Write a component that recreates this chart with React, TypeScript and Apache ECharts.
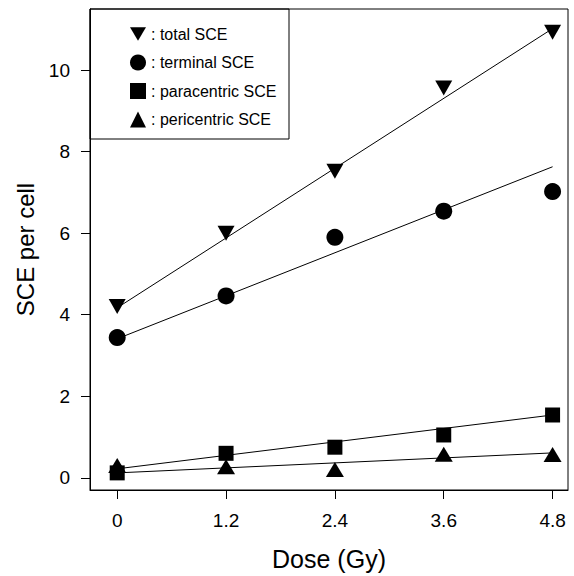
import React, { useEffect, useRef } from "react";
import * as echarts from "echarts";

const doses = [0, 1.2, 2.4, 3.6, 4.8];
const totalSCE = [4.2, 6.0, 7.52, 9.56, 10.93];
const terminalSCE = [3.44, 4.46, 5.9, 6.54, 7.02];
const paracentricSCE = [0.12, 0.6, 0.75, 1.05, 1.54];
const pericentricSCE = [0.3, 0.27, 0.2, 0.58, 0.57];

// fitted regression line end points (at dose 0 and 4.8)
const fitX = [0, 4.8];
const totalFit = [4.17, 11.02];
const terminalFit = [3.41, 7.63];
const paracentricFit = [0.22, 1.54];
const pericentricFit = [0.12, 0.61];

const xTicks = [0, 1.2, 2.4, 3.6, 4.8];
const yTicks = [0, 2, 4, 6, 8, 10];

const seriesNames = ["total SCE", "terminal SCE", "paracentric SCE", "pericentric SCE"];

const FONT = "'Liberation Sans', Arial, Helvetica, sans-serif";
const DOWN_TRI = "path://M0,0L20,0L10,17Z";

export default function App() {
  const ref = useRef<HTMLDivElement>(null);
  useEffect(() => {
    if (!ref.current) return;
    const chart = echarts.init(ref.current, undefined, { renderer: "svg" });
    const pts = (ys: number[]) => doses.map((d, i) => [d, ys[i]]);
    const fit = (ys: number[]) => fitX.map((d, i) => [d, ys[i]]);
    const lineSeries = (ys: number[]) => ({
      type: "line",
      data: fit(ys),
      symbol: "none",
      lineStyle: { color: "#000", width: 1 },
      silent: true,
      z: 2,
    });
    const mark = { color: "#000", opacity: 1 };
    chart.setOption({
      animation: false,
      backgroundColor: "#fff",
      textStyle: { fontFamily: FONT, color: "#000" },
      grid: {
        left: 90,
        top: 9,
        right: 6,
        bottom: 84,
        show: true,
        borderColor: "#000",
        borderWidth: 1,
        containLabel: false,
      },
      legend: {
        orient: "vertical",
        left: 125,
        top: 21,
        itemWidth: 16,
        itemHeight: 16,
        itemGap: 12.5,
        data: seriesNames,
        formatter: (n: string) => ": " + n,
        itemStyle: { opacity: 1 },
        textStyle: { fontFamily: FONT, fontSize: 16, color: "#000", lineHeight: 16 },
        selectedMode: false,
      },
      xAxis: {
        type: "value",
        min: -0.3,
        max: 4.97,
        name: "Dose (Gy)",
        nameLocation: "middle",
        nameGap: 56,
        nameTextStyle: { fontFamily: FONT, fontSize: 25, color: "#000" },
        axisLine: { show: true, onZero: false, lineStyle: { color: "#000", width: 1 } },
        axisTick: { show: true, length: 9, customValues: xTicks, lineStyle: { color: "#000" } },
        axisLabel: {
          customValues: xTicks,
          margin: 21,
          fontSize: 19,
          color: "#000",
          fontFamily: FONT,
          formatter: (v: number) => String(v),
        },
        splitLine: { show: false },
      },
      yAxis: {
        type: "value",
        min: -0.3,
        max: 11.5,
        name: "SCE per cell",
        nameLocation: "middle",
        nameRotate: 90,
        nameGap: 52,
        nameTextStyle: { fontFamily: FONT, fontSize: 24, color: "#000" },
        axisLine: { show: true, onZero: false, lineStyle: { color: "#000", width: 1 } },
        axisTick: { show: true, length: 9, customValues: yTicks, lineStyle: { color: "#000" } },
        axisLabel: {
          customValues: yTicks,
          margin: 20,
          fontSize: 19,
          color: "#000",
          fontFamily: FONT,
        },
        splitLine: { show: false },
      },
      graphic: [
        {
          type: "rect",
          shape: { x: 90, y: 9, width: 199, height: 130 },
          style: { fill: "#fff", stroke: "#000", lineWidth: 1 },
          z: -1,
          silent: true,
        },
      ],
      series: [
        lineSeries(totalFit),
        lineSeries(terminalFit),
        lineSeries(paracentricFit),
        lineSeries(pericentricFit),
        {
          name: seriesNames[0],
          type: "scatter",
          data: pts(totalSCE),
          symbol: DOWN_TRI,
          symbolSize: [17, 15],
          itemStyle: mark,
          z: 3,
        },
        {
          name: seriesNames[1],
          type: "scatter",
          data: pts(terminalSCE),
          symbol: "circle",
          symbolSize: 17,
          itemStyle: mark,
          z: 3,
        },
        {
          name: seriesNames[2],
          type: "scatter",
          data: pts(paracentricSCE),
          symbol: "rect",
          symbolSize: 15,
          itemStyle: mark,
          z: 3,
        },
        {
          name: seriesNames[3],
          type: "scatter",
          data: pts(pericentricSCE),
          symbol: "triangle",
          symbolSize: [18, 15],
          itemStyle: mark,
          z: 3,
        },
      ],
    });
    return () => chart.dispose();
  }, []);
  return <div ref={ref} style={{ width: 574, height: 576, position: "absolute", left: 0, top: 0 }} />;
}
